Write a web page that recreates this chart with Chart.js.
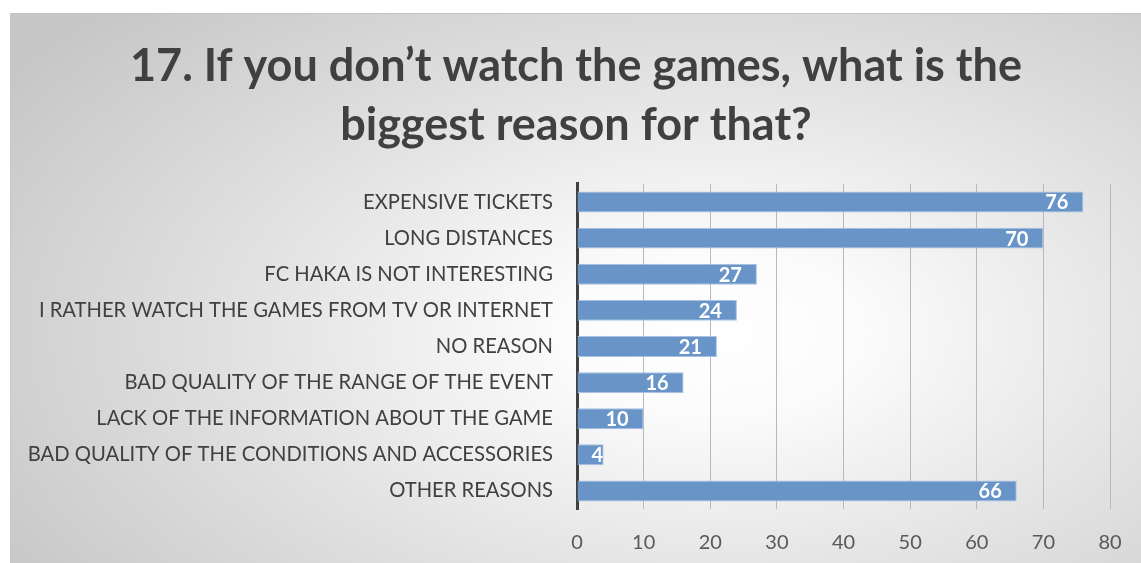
<!DOCTYPE html>
<html lang="en">
<head>
<meta charset="UTF-8">
<title>Reasons for not watching the games</title>
<style>
  * { box-sizing: border-box; margin: 0; padding: 0; }
  html, body { width: 1141px; height: 563px; background: #fff; overflow: hidden; }
  .frame {
    position: absolute; left: 10px; top: 13px; width: 1131px; height: 550px;
    background: radial-gradient(ellipse 75% 85% at 62% 58%, #ffffff 0%, #fbfbfb 18%, #e2e2e2 55%, #c6c6c6 100%);
    border-top: 1px solid #c4c4c4; border-left: 1px solid #c8c8c8;
  }
  canvas { display: block; }
</style>
</head>
<body>
<div class="frame"><canvas id="c" width="1130" height="549"></canvas></div>

<script src="https://cdnjs.cloudflare.com/ajax/libs/Chart.js/4.4.1/chart.umd.js"></script>
<script>
const reasons = [
  'EXPENSIVE TICKETS',
  'LONG DISTANCES',
  'FC HAKA IS NOT INTERESTING',
  'I RATHER WATCH THE GAMES FROM TV OR INTERNET',
  'NO REASON',
  'BAD QUALITY OF THE RANGE OF THE EVENT',
  'LACK OF THE INFORMATION ABOUT THE GAME',
  'BAD QUALITY OF THE CONDITIONS AND ACCESSORIES',
  'OTHER REASONS',
];
const answers = [76, 70, 27, 24, 21, 16, 10, 4, 66];
const titleLines = ['17. If you don\u2019t watch the games, what is the', 'biggest reason for that?'];

const FONT = 'Lato, "Open Sans", sans-serif';

// value labels at the inner end of each bar
const barLabels = {
  id: 'barLabels',
  afterDatasetsDraw(chart) {
    const ctx = chart.ctx;
    const meta = chart.getDatasetMeta(0);
    ctx.save();
    ctx.font = 'bold 20px ' + FONT;
    ctx.fillStyle = '#ffffff';
    ctx.textAlign = 'left';
    ctx.textBaseline = 'middle';
    meta.data.forEach((bar, i) => {
      const txt = String(answers[i]);
      const w = ctx.measureText(txt).width;
      let left = bar.x - 15 - w;
      if (left < bar.base + 12) left = bar.base + 14;
      ctx.fillText(txt, left, bar.y + 1);
    });
    ctx.restore();
  }
};

new Chart(document.getElementById('c'), {
  type: 'bar',
  data: {
    labels: reasons,
    datasets: [{
      data: answers,
      backgroundColor: '#6894c8',
      borderColor: '#a9c1e2',
      borderWidth: 1,
      barPercentage: 0.58,
      categoryPercentage: 1,
    }]
  },
  options: {
    indexAxis: 'y',
    responsive: false,
    animation: false,
    layout: { padding: 0 },
    plugins: {
      legend: { display: false },
      tooltip: { enabled: false },
      title: {
        display: true,
        text: titleLines,
        color: '#404040',
        font: { family: FONT, size: 45, weight: 'bold', lineHeight: 1.333 },
        padding: { top: 22, bottom: 28 },
      },
    },
    scales: {
      x: {
        min: 0, max: 80,
        ticks: { stepSize: 10, color: '#595959', padding: 22, font: { family: FONT, size: 20 } },
        grid: { color: '#b8b8b8', lineWidth: 1, drawTicks: false },
        border: { display: false },
        // keep the plot clear of the right edge without narrowing the title box
        afterFit(s) { s.height = 54; s.paddingRight = 31; },
      },
      y: {
        ticks: { color: '#404040', padding: 24, font: { family: FONT, size: 20.2 }, autoSkip: false },
        grid: { display: false, drawTicks: false },
        border: { display: true, color: '#404040', width: 3 },
        afterFit(s) { s.width = 566; },
      },
    },
  },
  plugins: [barLabels],
});
</script>
</body>
</html>
